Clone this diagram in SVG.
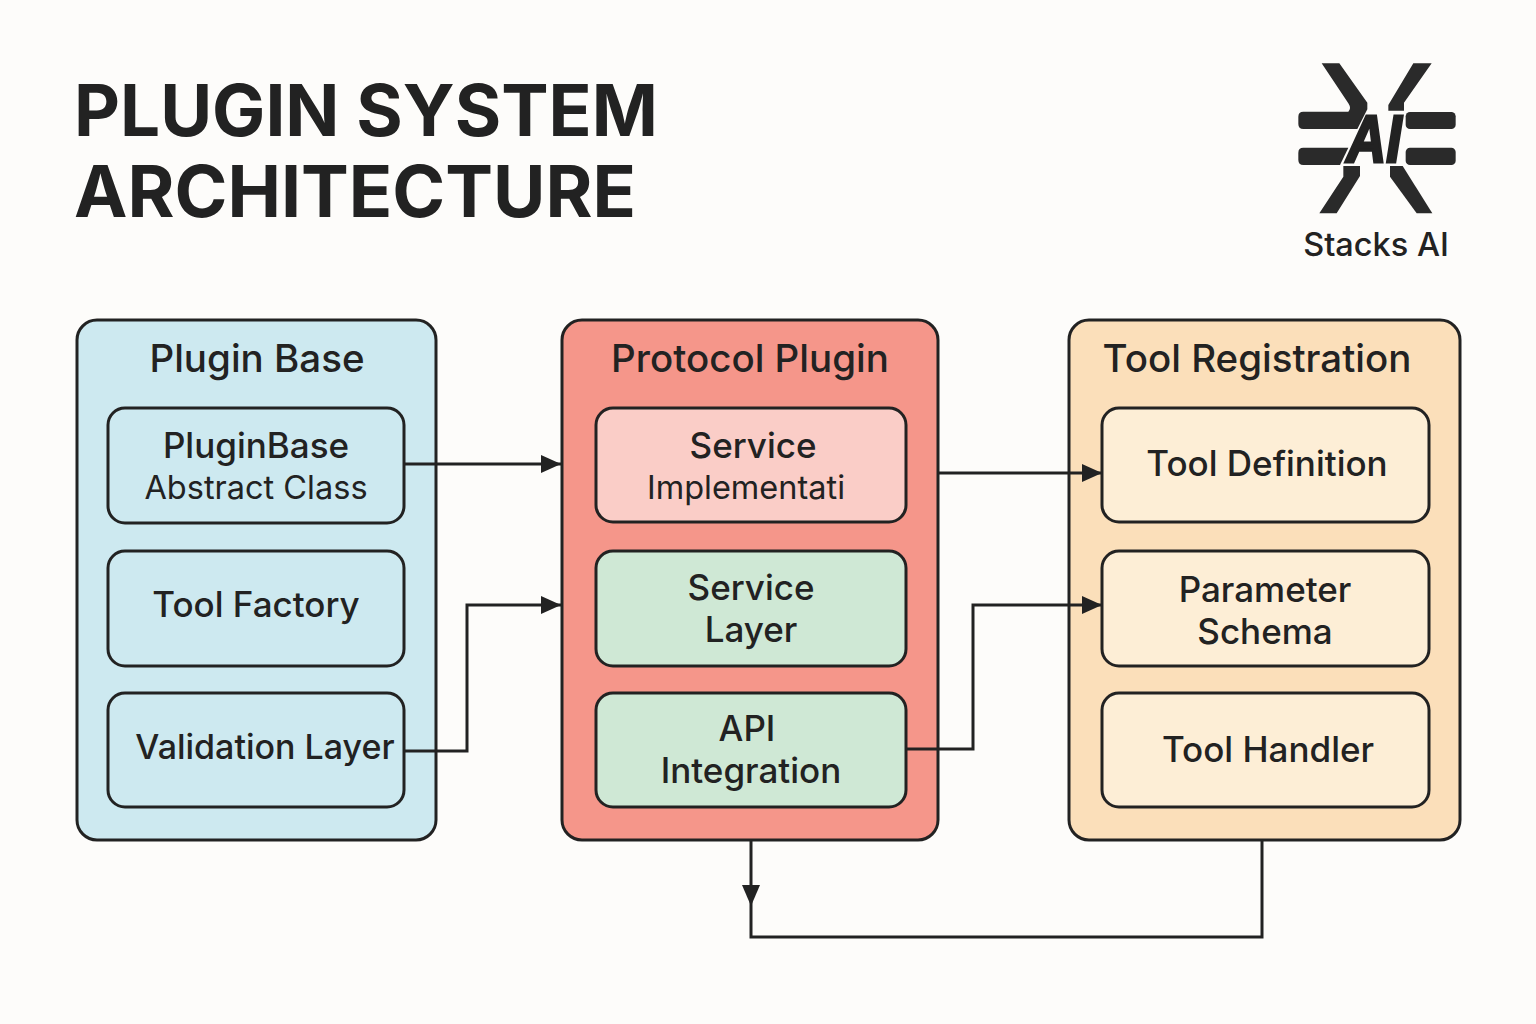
<svg xmlns="http://www.w3.org/2000/svg" width="1536" height="1024" viewBox="0 0 1536 1024">
<defs><marker id="a" markerUnits="userSpaceOnUse" markerWidth="22" markerHeight="20" refX="20" refY="9" orient="auto"><path d="M0 0L20 9L0 18Z" fill="#222"/></marker></defs>
<style>
text{font-family:Inter,"Liberation Sans",sans-serif;fill:#222;text-anchor:middle;font-weight:500}
.o{stroke:#222;stroke-width:3}
.i{stroke:#222;stroke-width:3}
.t{font-size:38.5px;font-weight:500}
.n{font-size:35px}
.s{font-size:32.5px;font-weight:400}
.c{fill:none;stroke:#222;stroke-width:3}
</style>
<rect width="1536" height="1024" fill="#fdfcfa"/>
<g id="title"><text x="74" y="136" style="text-anchor:start;font-size:71px;font-weight:700">PLUGIN SYSTEM</text><text x="74" y="217" style="text-anchor:start;font-size:71.6px;font-weight:700">ARCHITECTURE</text></g>
<g id="logo">
<g transform="translate(1280 50) scale(.33333)" fill="#2a2a2a">
<path d="M125 40H178L262 158V178L232 237H70Q55 237 55 222V200Q55 185 70 185H205Q215 175 205 160Z"/>
<path d="M400 40H455L372 158V182H325V165Z"/>
<rect x="377" y="186" width="150" height="51" rx="13"/>
<rect x="377" y="293" width="150" height="52" rx="13"/>
<path d="M70 293H205L180 345H70Q55 345 55 330V308Q55 293 70 293Z"/>
<path d="M190 348H240V378L170 490H118L190 380Z"/>
<path d="M330 348H368L457 490H410L330 380Z"/>
</g>
<text x="1374" y="162" textLength="55" lengthAdjust="spacingAndGlyphs" style="font-family:'Liberation Sans',sans-serif;font-size:67px;font-weight:700;font-style:italic;stroke:#222;stroke-width:3">AI</text>
<text x="1376" y="256" style="font-size:32.5px;font-weight:500">Stacks AI</text>
</g>
<g id="plugin-base"><rect class="o" x="77" y="320" width="359" height="520" rx="20" fill="#cde9f0"/><text class="t" x="257" y="372">Plugin Base</text></g>
<g id="pluginbase"><rect class="i" x="108" y="408" width="296" height="115" rx="17" fill="#cde9f0"/><text class="n" x="256" y="458">PluginBase</text><text class="s" x="256" y="499">Abstract Class</text></g>
<g id="tool-factory"><rect class="i" x="108" y="551" width="296" height="115" rx="17" fill="#cde9f0"/><text class="n" x="256" y="617">Tool Factory</text></g>
<g id="validation-layer"><rect class="i" x="108" y="693" width="296" height="114" rx="17" fill="#cde9f0"/><text class="n" x="265" y="759" style="font-size:34px">Validation Layer</text></g>
<g id="protocol-plugin"><rect class="o" x="562" y="320" width="376" height="520" rx="20" fill="#f5968a"/><text class="t" x="750" y="372">Protocol Plugin</text></g>
<g id="service-impl"><rect class="i" x="596" y="408" width="310" height="114" rx="17" fill="#facdc7"/><text class="n" x="753" y="458">Service</text><text class="s" x="746" y="499">Implementati</text></g>
<g id="service-layer"><rect class="i" x="596" y="551" width="310" height="115" rx="17" fill="#cfe8d5"/><text class="n" x="751" y="600">Service</text><text class="n" x="751" y="642">Layer</text></g>
<g id="api-integration"><rect class="i" x="596" y="693" width="310" height="114" rx="17" fill="#cfe8d5"/><text class="n" x="747" y="741">API</text><text class="n" x="751" y="783">Integration</text></g>
<g id="tool-registration"><rect class="o" x="1069" y="320" width="391" height="520" rx="20" fill="#fbdfba"/><text class="t" x="1257" y="372">Tool Registration</text></g>
<g id="tool-definition"><rect class="i" x="1102" y="408" width="327" height="114" rx="17" fill="#fdeed6"/><text class="n" x="1267" y="476">Tool Definition</text></g>
<g id="parameter-schema"><rect class="i" x="1102" y="551" width="327" height="115" rx="17" fill="#fdeed6"/><text class="n" x="1265" y="602">Parameter</text><text class="n" x="1265" y="644">Schema</text></g>
<g id="tool-handler"><rect class="i" x="1102" y="693" width="327" height="114" rx="17" fill="#fdeed6"/><text class="n" x="1268" y="762">Tool Handler</text></g>
<g id="connectors">
<path class="c" marker-end="url(#a)" d="M404 464H561"/>
<path class="c" marker-end="url(#a)" d="M404 751H467V605H561"/>
<path class="c" marker-end="url(#a)" d="M938 473H1102"/>
<path class="c" marker-end="url(#a)" d="M906 749H973V605H1102"/>
<path class="c" d="M1262 840V937H751V840"/>
<path d="M742 885H760L751 906Z" fill="#222"/>
</g>
</svg>
